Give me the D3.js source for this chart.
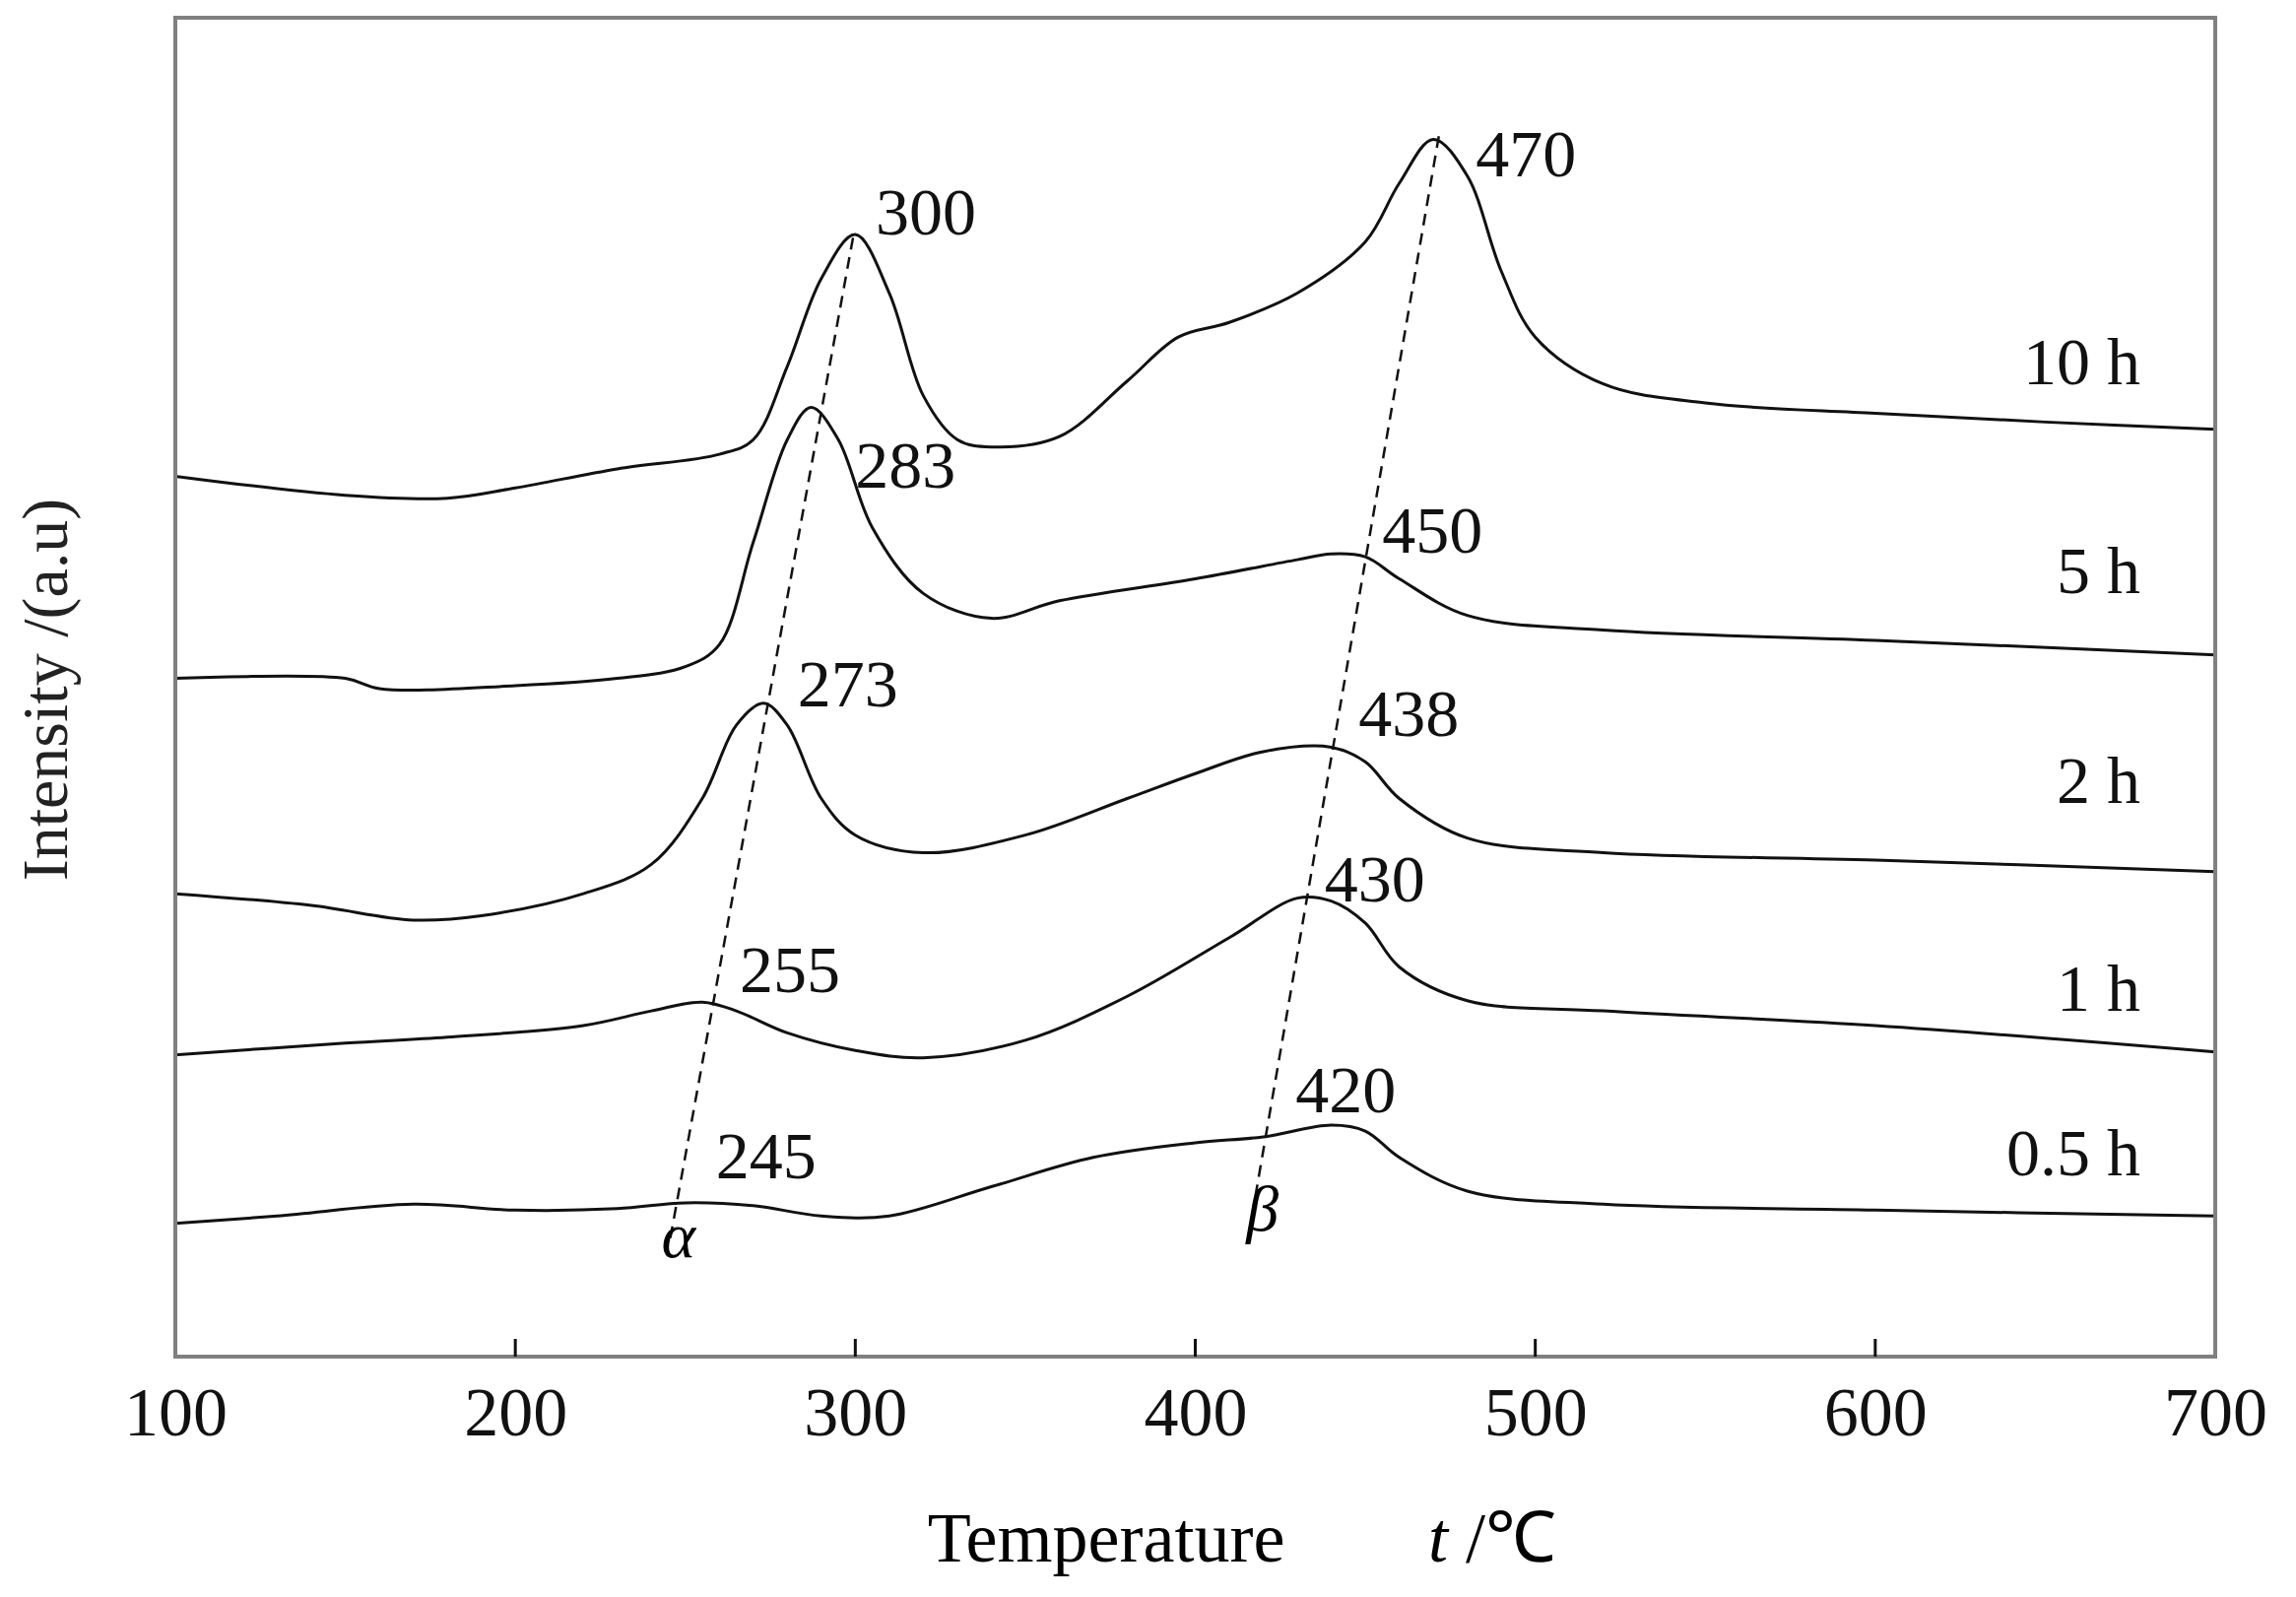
<!DOCTYPE html>
<html><head><meta charset="utf-8">
<script src="https://cdn.jsdelivr.net/npm/d3@7"></script>
<style>body{margin:0;background:#fff}text{font-family:"Liberation Serif","Times New Roman",serif}</style>
</head><body><svg id="c" width="2331" height="1621"></svg>
<script>
const temps10 = [100,150,180,200,230,260,270,280,290,300,310,320,330,340,360,380,395,410,430,450,460,470,480,490,500,520,550,600,650,700];
const h10 = [601,588,586,593,606,616,626,676,736,766,726,656,626,621,628,666,696,706,726,761,801,831,806,741,696,664,651,644,638,633];
const temps5 = [100,150,160,200,230,250,260,270,280,287,295,305,320,340,360,400,430,440,450,460,480,520,600,700];
const h5 = [463,463,456,458,463,471,486,556,626,648,626,566,521,504,516,531,544,548,546,531,506,496,489,479];
const temps2 = [100,140,170,190,220,240,255,265,273,280,290,300,320,350,380,400,420,440,450,460,480,520,600,700];
const h2 = [316,308,298,301,316,336,381,431,446,431,381,356,344,356,381,398,413,416,406,381,354,344,339,331];
const temps1 = [100,150,180,220,240,255,265,280,300,320,350,380,410,430,440,450,460,480,520,600,700];
const h1 = [206,214,218,226,236,242,236,221,209,204,216,246,286,313,311,296,266,243,236,226,208];
const temps05 = [100,130,170,200,230,250,270,290,310,340,370,400,420,440,450,460,480,520,600,700];
const h05 = [91,96,104,100,101,105,103,96,96,116,136,146,150,158,154,136,113,104,100,96];
const seriesNames = ["10 h","5 h","2 h","1 h","0.5 h"];
const seriesLabelY = [664,521,378,236,124];
const xTicks = [100,200,300,400,500,600,700];
const alphaLine = [[245.6,81],[299.5,766]];
const betaLine = [[415.7,83],[471.7,834]];
const peakLabels = [["300",306,766],["470",482.5,806],["283",300,593],["450",455,549],["273",283,444],["438",448,424],["255",266,249],["430",438,311],["420",429.5,167],["245",259,122]];

const L=178,R=2249,T=18,B=1377;
const svg=d3.select("#c");
const x=d3.scaleLinear().domain([100,700]).range([L,R]);
const y=d3.scaleLinear().domain([0,914]).range([B,T]);
const line=d3.line().x(d=>x(d[0])).y(d=>y(d[1])).curve(d3.curveCatmullRom.alpha(0.5));
const series=[[temps10,h10],[temps5,h5],[temps2,h2],[temps1,h1],[temps05,h05]];
series.forEach(([t,v])=>{
  svg.append("path").datum(t.map((d,i)=>[d,v[i]])).attr("d",line)
    .attr("fill","none").attr("stroke","#111").attr("stroke-width",3);
});
[alphaLine,betaLine].forEach(l=>{
  svg.append("path").datum(l).attr("d",d3.line().x(d=>x(d[0])).y(d=>y(d[1])))
    .attr("stroke","#111").attr("stroke-width",2.5).attr("stroke-dasharray","12,8").attr("fill","none");
});
svg.append("rect").attr("x",L).attr("y",T).attr("width",R-L).attr("height",B-T)
  .attr("fill","none").attr("stroke","#808080").attr("stroke-width",4);
const ax=svg.append("g").attr("transform",`translate(0,${B})`)
  .call(d3.axisBottom(x).tickValues(xTicks).tickSize(0).tickPadding(30).tickFormat(d3.format("d")));
ax.select(".domain").remove();
ax.selectAll("text").attr("font-size",70).attr("fill","#111").attr("font-family","Liberation Serif");
svg.selectAll(".tk").data(xTicks.slice(1,-1)).enter().append("line")
  .attr("x1",d=>x(d)).attr("x2",d=>x(d)).attr("y1",B).attr("y2",B-18)
  .attr("stroke","#111").attr("stroke-width",3);
peakLabels.forEach(([s,t,v])=>svg.append("text").attr("x",x(t)).attr("y",y(v)).attr("font-size",68).attr("fill","#111").text(s));
svg.append("text").attr("x",x(243)).attr("y",y(68)).attr("font-size",66).attr("font-style","italic").text("α");
svg.append("text").attr("x",x(415)).attr("y",y(86)).attr("font-size",66).attr("font-style","italic").text("β");
seriesNames.forEach((n,i)=>svg.append("text").attr("x",x(678)).attr("y",y(seriesLabelY[i])).attr("text-anchor","end").attr("font-size",68).attr("fill","#111").text(n));
svg.append("text").attr("x",1123).attr("y",1585).attr("text-anchor","middle").attr("font-size",72).text("Temperature");
svg.append("text").attr("x",1450).attr("y",1585).attr("font-size",72).html('<tspan font-style="italic">t</tspan> /℃');
svg.append("text").attr("transform","translate(68,700) rotate(-90)").attr("text-anchor","middle").attr("font-size",66).attr("font-family","Liberation Sans").attr("fill","#222").text("Intensity /(a.u)");
</script></body></html>
